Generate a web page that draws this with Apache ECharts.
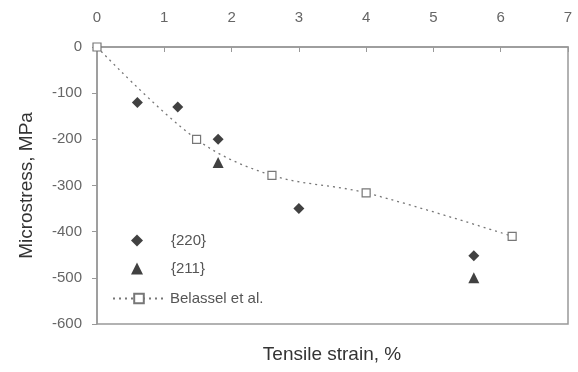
<!DOCTYPE html>
<html><head><meta charset="utf-8">
<script src="https://cdn.jsdelivr.net/npm/echarts@6/dist/echarts.min.js"></script>
<style>html,body{margin:0;padding:0;background:#fff}#c{width:578px;height:372px}</style>
</head><body><div id="c"></div>
<script>
var s220 = [[0.6,-120],[1.2,-130],[1.8,-200],[3.0,-350],[5.6,-452]];
var s211 = [[1.8,-250],[5.6,-500]];
var belassel = [[0,0],[1.48,-200],[2.6,-278],[4.0,-316],[6.17,-410]];
var chart = echarts.init(document.getElementById('c'));
var font = 'Liberation Sans, Arial, sans-serif';
var legText = {fontFamily:font,fontSize:15,color:'#555'};
chart.setOption({
  animation:false,
  grid:{left:97,top:47,right:10,bottom:48,show:true,borderColor:'#999',borderWidth:1.5},
  legend:[
    {orient:'vertical',left:126,top:228,itemWidth:12,itemHeight:12,itemGap:13,
     textStyle:Object.assign({padding:[0,0,0,23]},legText),data:['{220}','{211}']},
    {orient:'vertical',left:107,top:286,itemWidth:52,itemHeight:12,
     textStyle:legText,data:['Belassel et al.']}
  ],
  xAxis:{type:'value',position:'top',min:0,max:7,interval:1,
    axisLine:{lineStyle:{color:'#999',width:1.5}},
    axisTick:{inside:true,length:5,lineStyle:{color:'#999'}},
    axisLabel:{fontFamily:font,fontSize:15,color:'#666',margin:22},
    splitLine:{show:false}},
  yAxis:{type:'value',min:-600,max:0,interval:100,
    axisLine:{lineStyle:{color:'#999',width:1.5}},
    axisTick:{inside:false,length:5,lineStyle:{color:'#999'}},
    axisLabel:{fontFamily:font,fontSize:15,color:'#666',margin:15},
    splitLine:{show:false},
    name:'Microstress, MPa',nameLocation:'middle',nameGap:61,nameRotate:90,
    nameTextStyle:{fontFamily:font,fontSize:19,color:'#333'}},
  graphic:[{type:'text',x:332,y:355,style:{text:'Tensile strain, %',font:'19px '+font,fill:'#333',align:'center',verticalAlign:'middle'}}],
  series:[
    {name:'{220}',type:'scatter',data:s220,symbol:'diamond',symbolSize:11,itemStyle:{color:'#111'}},
    {name:'{211}',type:'scatter',data:s211,symbol:'triangle',symbolSize:11,itemStyle:{color:'#111'}},
    {name:'Belassel et al.',type:'line',data:belassel,smooth:0.35,symbol:'rect',symbolSize:8,
      itemStyle:{color:'#fff',borderColor:'#777',borderWidth:1.2},
      lineStyle:{color:'#777',width:1.3,type:[2,4]}}
  ]
});
</script></body></html>
